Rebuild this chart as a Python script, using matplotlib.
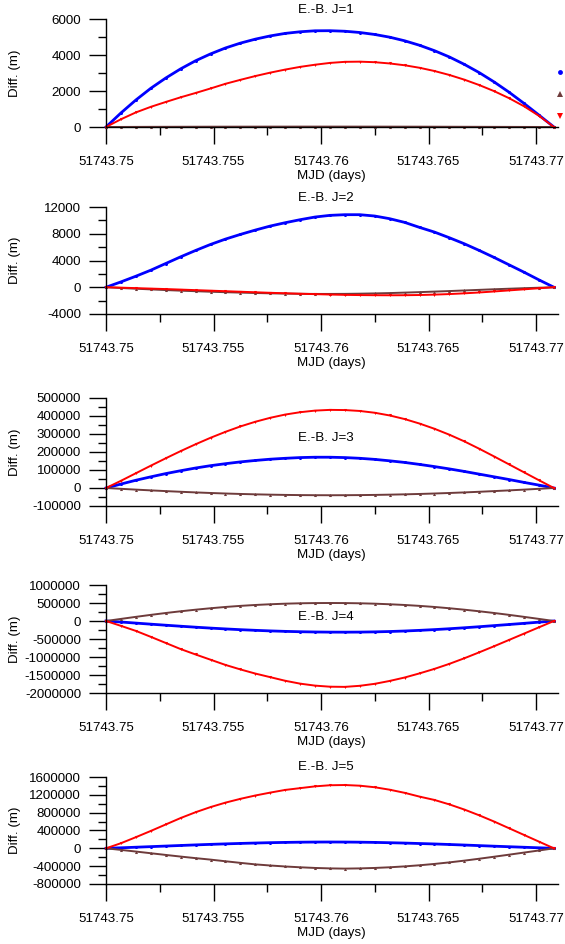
import numpy as np
import matplotlib
matplotlib.use("Agg")
import matplotlib.pyplot as plt
from matplotlib.ticker import MultipleLocator, FuncFormatter
from matplotlib.lines import Line2D

plt.rcParams['font.family'] = ['Liberation Sans', 'DejaVu Sans']
plt.rcParams['axes.unicode_minus'] = False

# sample times: one per minute over half an hour, starting at MJD 51743.75
MJD0 = 51743.75
minutes = np.arange(31)
mjd = MJD0 + minutes / 1440.0

# differences (m) per model degree J, three components each
dx_j1 = [0, 780, 1500, 2150, 2720, 3230, 3680, 4060, 4390, 4660, 4880, 5060, 5200, 5290, 5345, 5350,
         5320, 5250, 5140, 4990, 4790, 4540, 4240, 3890, 3480, 3020, 2500, 1930, 1310, 660, 0]
dy_j1 = [0, 3, 6, 9, 11, 13, 15, 17, 18, 19, 20, 21, 21, 22, 22, 22,
         22, 21, 21, 20, 19, 18, 16, 14, 12, 10, 8, 6, 4, 2, 0]
dz_j1 = [0, 430, 810, 1120, 1390, 1650, 1890, 2140, 2400, 2620, 2830, 3020, 3190, 3340, 3460, 3560,
         3620, 3630, 3600, 3530, 3430, 3290, 3110, 2890, 2630, 2330, 1990, 1600, 1150, 620, 0]

dx_j2 = [0, 800, 1650, 2550, 3550, 4550, 5500, 6400, 7200, 7900, 8550, 9150, 9650, 10100, 10500, 10750,
         10850, 10850, 10650, 10250, 9700, 8950, 8250, 7400, 6500, 5500, 4450, 3350, 2250, 1100, 0]
dy_j2 = [0, -110, -220, -320, -420, -510, -590, -670, -740, -800, -860, -910, -950, -980, -1000, -1000,
         -990, -960, -920, -870, -800, -730, -650, -570, -480, -390, -300, -220, -140, -70, 0]
dz_j2 = [0, -60, -130, -200, -270, -350, -430, -510, -590, -670, -750, -830, -900, -970, -1030, -1090,
         -1140, -1170, -1190, -1200, -1190, -1160, -1100, -1020, -910, -780, -630, -470, -310, -150, 0]

dx_j3 = [0, 22000, 43000, 62000, 80000, 96000, 111000, 124000, 135000, 145000, 153000, 160000, 165000,
         169000, 171000, 171000, 169000, 165000, 159000, 151000, 142000, 131000, 119000, 106000, 92000,
         77000, 62000, 47000, 31000, 16000, 0]
dy_j3 = [0, -4500, -9000, -13200, -17200, -21000, -24500, -27700, -30600, -33100, -35200, -37000, -38400,
         -39400, -40000, -40200, -40000, -39400, -38400, -37000, -35200, -33100, -30600, -27700, -24500,
         -21000, -17200, -13200, -9000, -4500, 0]
dz_j3 = [0, 40000, 82000, 124000, 165000, 205000, 243000, 279000, 312000, 342000, 368000, 390000, 408000,
         421000, 430000, 434000, 433000, 428000, 418000, 403000, 383000, 358000, 329000, 296000, 259000,
         218000, 175000, 131000, 87000, 43000, 0]

dx_j4 = [0, -28000, -58000, -88000, -117000, -145000, -172000, -197000, -220000, -241000, -259000,
         -275000, -288000, -298000, -305000, -309000, -310000, -308000, -302000, -292000, -278000,
         -260000, -239000, -215000, -188000, -159000, -128000, -97000, -65000, -32000, 0]
dy_j4 = [0, 58000, 115000, 170000, 222000, 270000, 314000, 354000, 390000, 420000, 445000, 465000,
         481000, 492000, 498000, 500000, 498000, 492000, 481000, 465000, 445000, 420000, 390000, 354000,
         314000, 270000, 222000, 170000, 115000, 58000, 0]
dz_j4 = [0, -135000, -275000, -440000, -610000, -780000, -930000, -1075000, -1220000, -1345000,
         -1460000, -1560000, -1660000, -1740000, -1795000, -1825000, -1830000, -1800000, -1745000,
         -1665000, -1570000, -1455000, -1330000, -1190000, -1035000, -870000, -700000, -525000,
         -350000, -175000, 0]

dx_j5 = [0, 12000, 25000, 38000, 51000, 64000, 77000, 89000, 100000, 110000, 119000, 127000, 133000,
         138000, 141000, 142000, 141000, 138000, 133000, 126000, 118000, 108000, 98000, 86000, 74000,
         61000, 48000, 36000, 24000, 12000, 0]
dy_j5 = [0, -35000, -72000, -110000, -148000, -185000, -220000, -253000, -290000, -326000, -360000,
         -385000, -407000, -425000, -440000, -450000, -455000, -450000, -440000, -425000, -405000,
         -380000, -350000, -315000, -276000, -233000, -188000, -142000, -95000, -48000, 0]
dz_j5 = [0, 115000, 250000, 390000, 535000, 680000, 810000, 925000, 1025000, 1110000, 1185000,
         1250000, 1310000, 1350000, 1390000, 1415000, 1420000, 1405000, 1370000, 1315000, 1245000,
         1160000, 1085000, 985000, 870000, 740000, 600000, 450000, 300000, 150000, 0]

panels = [
    ("E.-B. J=1", dx_j1, dy_j1, dz_j1, (0, 6000), 2000),
    ("E.-B. J=2", dx_j2, dy_j2, dz_j2, (-4000, 12000), 4000),
    ("E.-B. J=3", dx_j3, dy_j3, dz_j3, (-100000, 500000), 100000),
    ("E.-B. J=4", dx_j4, dy_j4, dz_j4, (-2000000, 1000000), 500000),
    ("E.-B. J=5", dx_j5, dy_j5, dz_j5, (-800000, 1600000), 400000),
]

W, H = 565, 944
# axes top / bottom in pixels, and title centre heights
boxes = [(19, 127), (207, 314), (398, 506), (585, 693), (777, 884)]
title_y = [10, 198, 438, 617, 767]
left_px, right_px = 106, 557.5

c_x, c_y, c_z = "#0000ff", "#6e3b3b", "#ff0000"
FS = 9.6

fig = plt.figure(figsize=(W / 100, H / 100), dpi=100)


def mjd_fmt(v, pos):
    return ("%.3f" % v).rstrip("0").rstrip(".")


def int_fmt(v, pos):
    return "%d" % round(v)


for k, (title, dx, dy, dz, ylim, ystep) in enumerate(panels):
    top, bot = boxes[k]
    ax = fig.add_axes([left_px / W, 1 - bot / H, (right_px - left_px) / W, (bot - top) / H])

    ax.plot(mjd, dx, color=c_x, lw=2.0, marker="o", ms=2.2, mew=0, clip_on=False)
    ax.plot(mjd, dy, color=c_y, lw=1.4, marker="^", ms=2.2, mew=0, clip_on=False)
    ax.plot(mjd, dz, color=c_z, lw=1.4, marker="v", ms=2.2, mew=0, clip_on=False)

    ax.set_xlim(MJD0, 51743.771)
    ax.set_ylim(*ylim)
    for s in ("top", "right"):
        ax.spines[s].set_visible(False)
    for s in ("left", "bottom"):
        ax.spines[s].set_linewidth(1.0)

    ax.xaxis.set_major_locator(MultipleLocator(0.005))
    ax.xaxis.set_minor_locator(MultipleLocator(0.0025))
    ax.yaxis.set_major_locator(MultipleLocator(ystep))
    ax.yaxis.set_minor_locator(MultipleLocator(ystep / 2))
    ax.xaxis.set_major_formatter(FuncFormatter(mjd_fmt))
    ax.yaxis.set_major_formatter(FuncFormatter(int_fmt))
    ax.tick_params(which="major", length=12, width=1.0, labelsize=FS, direction="out")
    ax.tick_params(which="minor", length=6, width=1.0, direction="out")
    ax.tick_params(axis="x", pad=9)
    ax.tick_params(axis="y", pad=6)

    ax.set_xlabel("MJD (days)", fontsize=FS, labelpad=1)
    fig.text(15 / W, 1 - (top + bot) / 2 / H, "Diff. (m)", rotation=90,
             ha="center", va="center", fontsize=FS)
    fig.text(326 / W, 1 - title_y[k] / H, title, ha="center", va="center", fontsize=FS)

    if k == 0:
        # marker key at the right edge, its names run past the border
        handles = [Line2D([], [], ls="none", marker="o", ms=3.5, mew=0, color=c_x),
                   Line2D([], [], ls="none", marker="^", ms=4, mew=0, color=c_y),
                   Line2D([], [], ls="none", marker="v", ms=4, mew=0, color=c_z)]
        ax.legend(handles, [" ", " ", " "], loc="center left",
                  bbox_to_anchor=(556 / W, 1 - 95.5 / H), bbox_transform=fig.transFigure,
                  frameon=False, fontsize=FS, handlelength=0.6, handletextpad=0.2,
                  borderpad=0, borderaxespad=0, labelspacing=0.75)

fig.savefig("out.png", dpi=100)
